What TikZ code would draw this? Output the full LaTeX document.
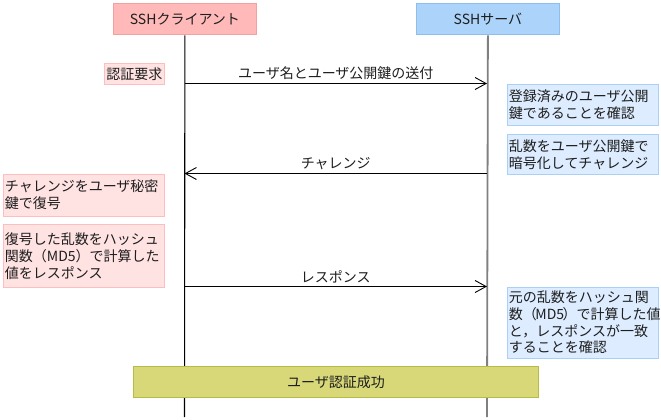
\documentclass[tikz,border=0pt]{standalone}
\usepackage{fontspec}
\setmainfont{Noto Sans CJK JP}
\usetikzlibrary{arrows.meta}
\definecolor{chfill}{RGB}{255,185,185}
\definecolor{chdraw}{RGB}{242,160,160}
\definecolor{shfill}{RGB}{172,212,250}
\definecolor{shdraw}{RGB}{140,190,240}
\definecolor{pnfill}{RGB}{255,226,226}
\definecolor{pndraw}{RGB}{255,190,190}
\definecolor{bnfill}{RGB}{221,237,255}
\definecolor{bndraw}{RGB}{170,208,245}
\definecolor{okfill}{RGB}{216,216,120}
\definecolor{okdraw}{RGB}{186,186,70}
\definecolor{txt}{RGB}{30,30,30}
\begin{document}
\begin{tikzpicture}[x=1pt,y=-1pt,
  every node/.style={font=\fontsize{14pt}{16.8pt}\selectfont, text=txt},
  head/.style={draw, line width=0.8pt, minimum width=143pt, minimum height=31pt, inner sep=0pt, anchor=north west},
  note/.style={draw, line width=0.8pt, anchor=north west, align=left, inner xsep=1.5pt, inner ysep=2pt},
  life/.style={line width=1.1pt, black},
  slife/.style={line width=1.8pt, gray},
  msg/.style={line width=1pt, black, -{Straight Barb[length=11pt,width=12pt,line width=0.9pt]}},
  lbl/.style={midway, above=1pt, inner sep=2pt}
]
\useasboundingbox (0,0) rectangle (661,420);
% headers
\node[head, fill=chfill, draw=chdraw] (client) at (113,3.5) {SSHクライアント};
\node[head, fill=shfill, draw=shdraw] (server) at (416,3.5) {SSHサーバ};
\coordinate (cend) at (184.5,417);
\coordinate (send) at (487,417);
\draw[life] (client.south) -- (cend);
\draw[slife] (server.south) -- (send);
% request
\node[note, fill=pnfill, draw=pndraw, minimum width=60pt, minimum height=20pt, align=center, inner xsep=0pt] (req) at (104,63.5) {認証要求};
% message 1
\coordinate (c1) at (184.5,83.5);
\coordinate (s1) at (487,83.5);
\draw[msg] (c1) -- (s1) node[lbl] (m1) {ユーザ名とユーザ公開鍵の送付};
\node[note, fill=bnfill, draw=bndraw, text width=148pt, minimum height=41pt] (n1) at (507,83.5) {登録済みのユーザ公開\\鍵であることを確認};
\node[note, fill=bnfill, draw=bndraw, text width=148pt, minimum height=40pt] (n2) at (507,134) {乱数をユーザ公開鍵で\\暗号化してチャレンジ};
% message 2
\coordinate (s2) at (487,173.5);
\coordinate (c2) at (184.5,173.5);
\draw[msg] (s2) -- (c2) node[lbl] (m2) {チャレンジ};
\node[note, fill=pnfill, draw=pndraw, text width=158pt, minimum height=42pt] (n3) at (3,173.5) {チャレンジをユーザ秘密\\鍵で復号};
\node[note, fill=pnfill, draw=pndraw, text width=158pt, minimum height=63pt] (n4) at (3,224) {復号した乱数をハッシュ\\関数（MD5）で計算した\\値をレスポンス};
% message 3
\coordinate (c3) at (184.5,286.5);
\coordinate (s3) at (487,286.5);
\draw[msg] (c3) -- (s3) node[lbl] (m3) {レスポンス};
\node[note, fill=bnfill, draw=bndraw, text width=148pt, minimum height=71pt] (n5) at (507,286.5) {元の乱数をハッシュ関\\数（\kern-1.5pt MD5\kern-1.5pt）で計算した値\\と，レスポンスが一致\\することを確認};
% success
\node[draw=okdraw, fill=okfill, line width=0.8pt, minimum width=405pt, minimum height=31pt, anchor=north west, inner sep=0pt] (ok) at (133,366) {ユーザ認証成功};
\end{tikzpicture}
\end{document}
